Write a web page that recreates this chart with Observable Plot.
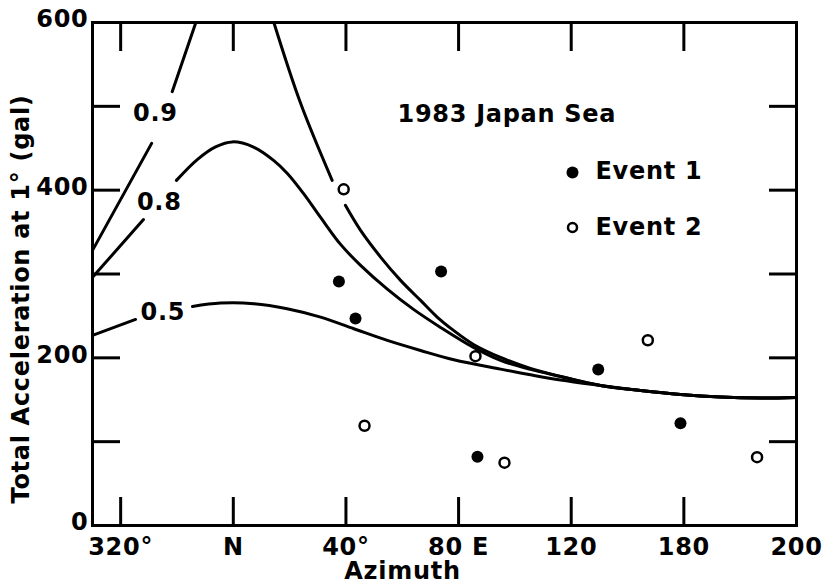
<!DOCTYPE html>
<html>
<head>
<meta charset="utf-8">
<script src="https://cdn.jsdelivr.net/npm/d3@7"></script>
<script src="https://cdn.jsdelivr.net/npm/@observablehq/plot@0.6"></script>
<style>
  html, body { margin: 0; padding: 0; background: #fff; }
</style>
</head>
<body>
<div id="chart"></div>
<script>
// ---- data ----
const titleText = "1983 Japan Sea";
const xLabelText = "Azimuth";
const yLabelText = "Total Acceleration at 1° (gal)";

const xTickValues = [-40, 0, 40, 80, 120, 160, 200];
const xTickLabels = ["320°", "N", "40°", "80 E", "120", "180", "200"];
const yTickValues = [100, 200, 300, 400, 500];
const yLabelValues = [0, 200, 400, 600];
const yLabelTexts = ["0", "200", "400", "600"];

// Event 1 (filled) and Event 2 (open)
const event1Az  = [37.5, 43.4, 73.8, 86.7, 129.6, 158.8];
const event1Acc = [291, 247, 303, 82, 186, 122];
const event2Az  = [39.2, 46.6, 86.0, 96.3, 147.2, 186.0];
const event2Acc = [401, 119, 202, 75, 221, 81.5];

// curves (NaN = gap where a label / symbol interrupts the line)
const curve09Az  = [-50, -29, NaN, -21.7, -13.3, NaN, 14.4, 23.9, 35.1, NaN, 39.8, 45.2, 52.3, 59.4, 66.5, 72.4, 78.2, 85.3, 94.9, 105.5, 116.2, 130.4, 144.6, 158.8, 173.0, 187.2, 200];
const curve09Acc = [328.2, 455.8, NaN, 517.5, 600, NaN, 600, 503.6, 411.7, NaN, 381.9, 352, 320.2, 292.4, 268.5, 248.6, 232.7, 216, 200.5, 187.4, 177.8, 167.1, 161.1, 156.3, 153.3, 152.1, 152.7];

const curve08Az  = [-50, -31.9, NaN, -20.2, -12.7, -6.3, -0.3, 7.2, 14.3, 19.2, 24.9, 31.0, 38.1, 45.2, 54.8, 64.0, 73.6, 85.3, 94.9, 105.5, 116.2, 130.4, 144.6, 158.8, 173.0, 187.2, 200];
const curve08Acc = [296, 365, NaN, 411.7, 436.8, 451.7, 457.6, 451.4, 435.6, 420, 396.2, 367.5, 335.3, 310.3, 281.6, 257.8, 236.3, 212.4, 196.9, 186.2, 177.8, 167.1, 161.1, 156.3, 153.3, 152.1, 152.7];

const curve05Az  = [-50, -34.7, NaN, -14.5, -4.5, 7.3, 19.1, 31.0, 42.8, 54.7, 66.5, 78.3, 94.9, 105.5, 116.2, 130.4, 144.6, 158.8, 173.0, 187.2, 200];
const curve05Acc = [226.7, 245.8, NaN, 261.3, 265.3, 264.6, 258.6, 248.6, 234.7, 220.8, 208.8, 197.7, 186.5, 179.8, 173.6, 167.1, 161.1, 156.3, 153.3, 152.1, 152.7];

const curveLabels   = ["0.9", "0.8", "0.5"];
const curveLabelAz  = [-27.7, -26.3, -25.0];
const curveLabelAcc = [492, 386, 254];

const legendLabels = ["Event 1", "Event 2"];

// ---- tables ----
const toTable = (xs, ys) => xs.map((x, i) => ({az: x, acc: ys[i]}));
const c09 = toTable(curve09Az, curve09Acc);
const c08 = toTable(curve08Az, curve08Acc);
const c05 = toTable(curve05Az, curve05Acc);
const ev1 = toTable(event1Az, event1Acc);
const ev2 = toTable(event2Az, event2Acc);
const labs = curveLabels.map((t, i) => ({t, az: curveLabelAz[i], acc: curveLabelAcc[i]}));

const FS = 24;
const lineStyle = {x: "az", y: "acc", curve: "catmull-rom", stroke: "black", strokeWidth: 3};
const txt = {fontSize: FS, textAnchor: "middle", lineAnchor: "middle"};

const chart = Plot.plot({
  width: 822,
  height: 585,
  marginLeft: 92,
  marginRight: 26,
  marginTop: 22,
  marginBottom: 60,
  style: {
    fontFamily: "'DejaVu Sans', sans-serif",
    fontSize: FS + "px",
    fontWeight: "bold",
    letterSpacing: "0.7px",
    background: "white",
    color: "black"
  },
  x: {domain: [-50, 200]},
  y: {domain: [0, 600]},
  marks: [
    Plot.line(c05, lineStyle),
    Plot.line(c08, lineStyle),
    Plot.line(c09, lineStyle),
    Plot.text(labs, {x: "az", y: "acc", text: "t", ...txt}),
    Plot.dot(ev1, {x: "az", y: "acc", r: 6, fill: "black"}),
    Plot.dot(ev2, {x: "az", y: "acc", r: 5, fill: "white", stroke: "black", strokeWidth: 2.5}),
    Plot.frame({stroke: "black", strokeWidth: 3}),
    // inward ticks
    Plot.axisX({anchor: "bottom", ticks: xTickValues.slice(0, -1), tickSize: -28, strokeWidth: 3, tickFormat: () => "", label: null}),
    Plot.axisX({anchor: "top", ticks: xTickValues.slice(0, -1), tickSize: -28, strokeWidth: 3, tickFormat: () => "", label: null}),
    Plot.axisY({anchor: "left", ticks: yTickValues, tickSize: -28, strokeWidth: 3, tickFormat: () => "", label: null}),
    Plot.axisY({anchor: "right", ticks: yTickValues, tickSize: -28, strokeWidth: 3, tickFormat: () => "", label: null}),
    // tick labels
    Plot.axisX({anchor: "bottom", ticks: xTickValues, tickSize: 0, tickPadding: 12, fontSize: FS,
      tickFormat: d => xTickLabels[xTickValues.indexOf(d)], label: null}),
    Plot.axisY({anchor: "left", ticks: yLabelValues, tickSize: 0, tickPadding: 4, fontSize: FS, dy: -3,
      tickFormat: d => yLabelTexts[yLabelValues.indexOf(d)], label: null}),
    // axis titles
    Plot.text([xLabelText], {frameAnchor: "bottom-left", dx: 310, dy: 46, ...txt}),
    Plot.text([yLabelText], {frameAnchor: "left", dx: -71, dy: 25, rotate: -90, ...txt}),
    // title & legend
    Plot.text([titleText], {frameAnchor: "top-left", dx: 305, dy: 92, ...txt, textAnchor: "start"}),
    Plot.dot([legendLabels[0]], {frameAnchor: "top-left", dx: 480, dy: 150, r: 6, fill: "black"}),
    Plot.text([legendLabels[0]], {frameAnchor: "top-left", dx: 503, dy: 149, ...txt, textAnchor: "start"}),
    Plot.dot([legendLabels[1]], {frameAnchor: "top-left", dx: 480, dy: 205, r: 4.5, fill: "white", stroke: "black", strokeWidth: 2.5}),
    Plot.text([legendLabels[1]], {frameAnchor: "top-left", dx: 503, dy: 205, ...txt, textAnchor: "start"})
  ]
});
document.getElementById("chart").appendChild(chart);
</script>
</body>
</html>
